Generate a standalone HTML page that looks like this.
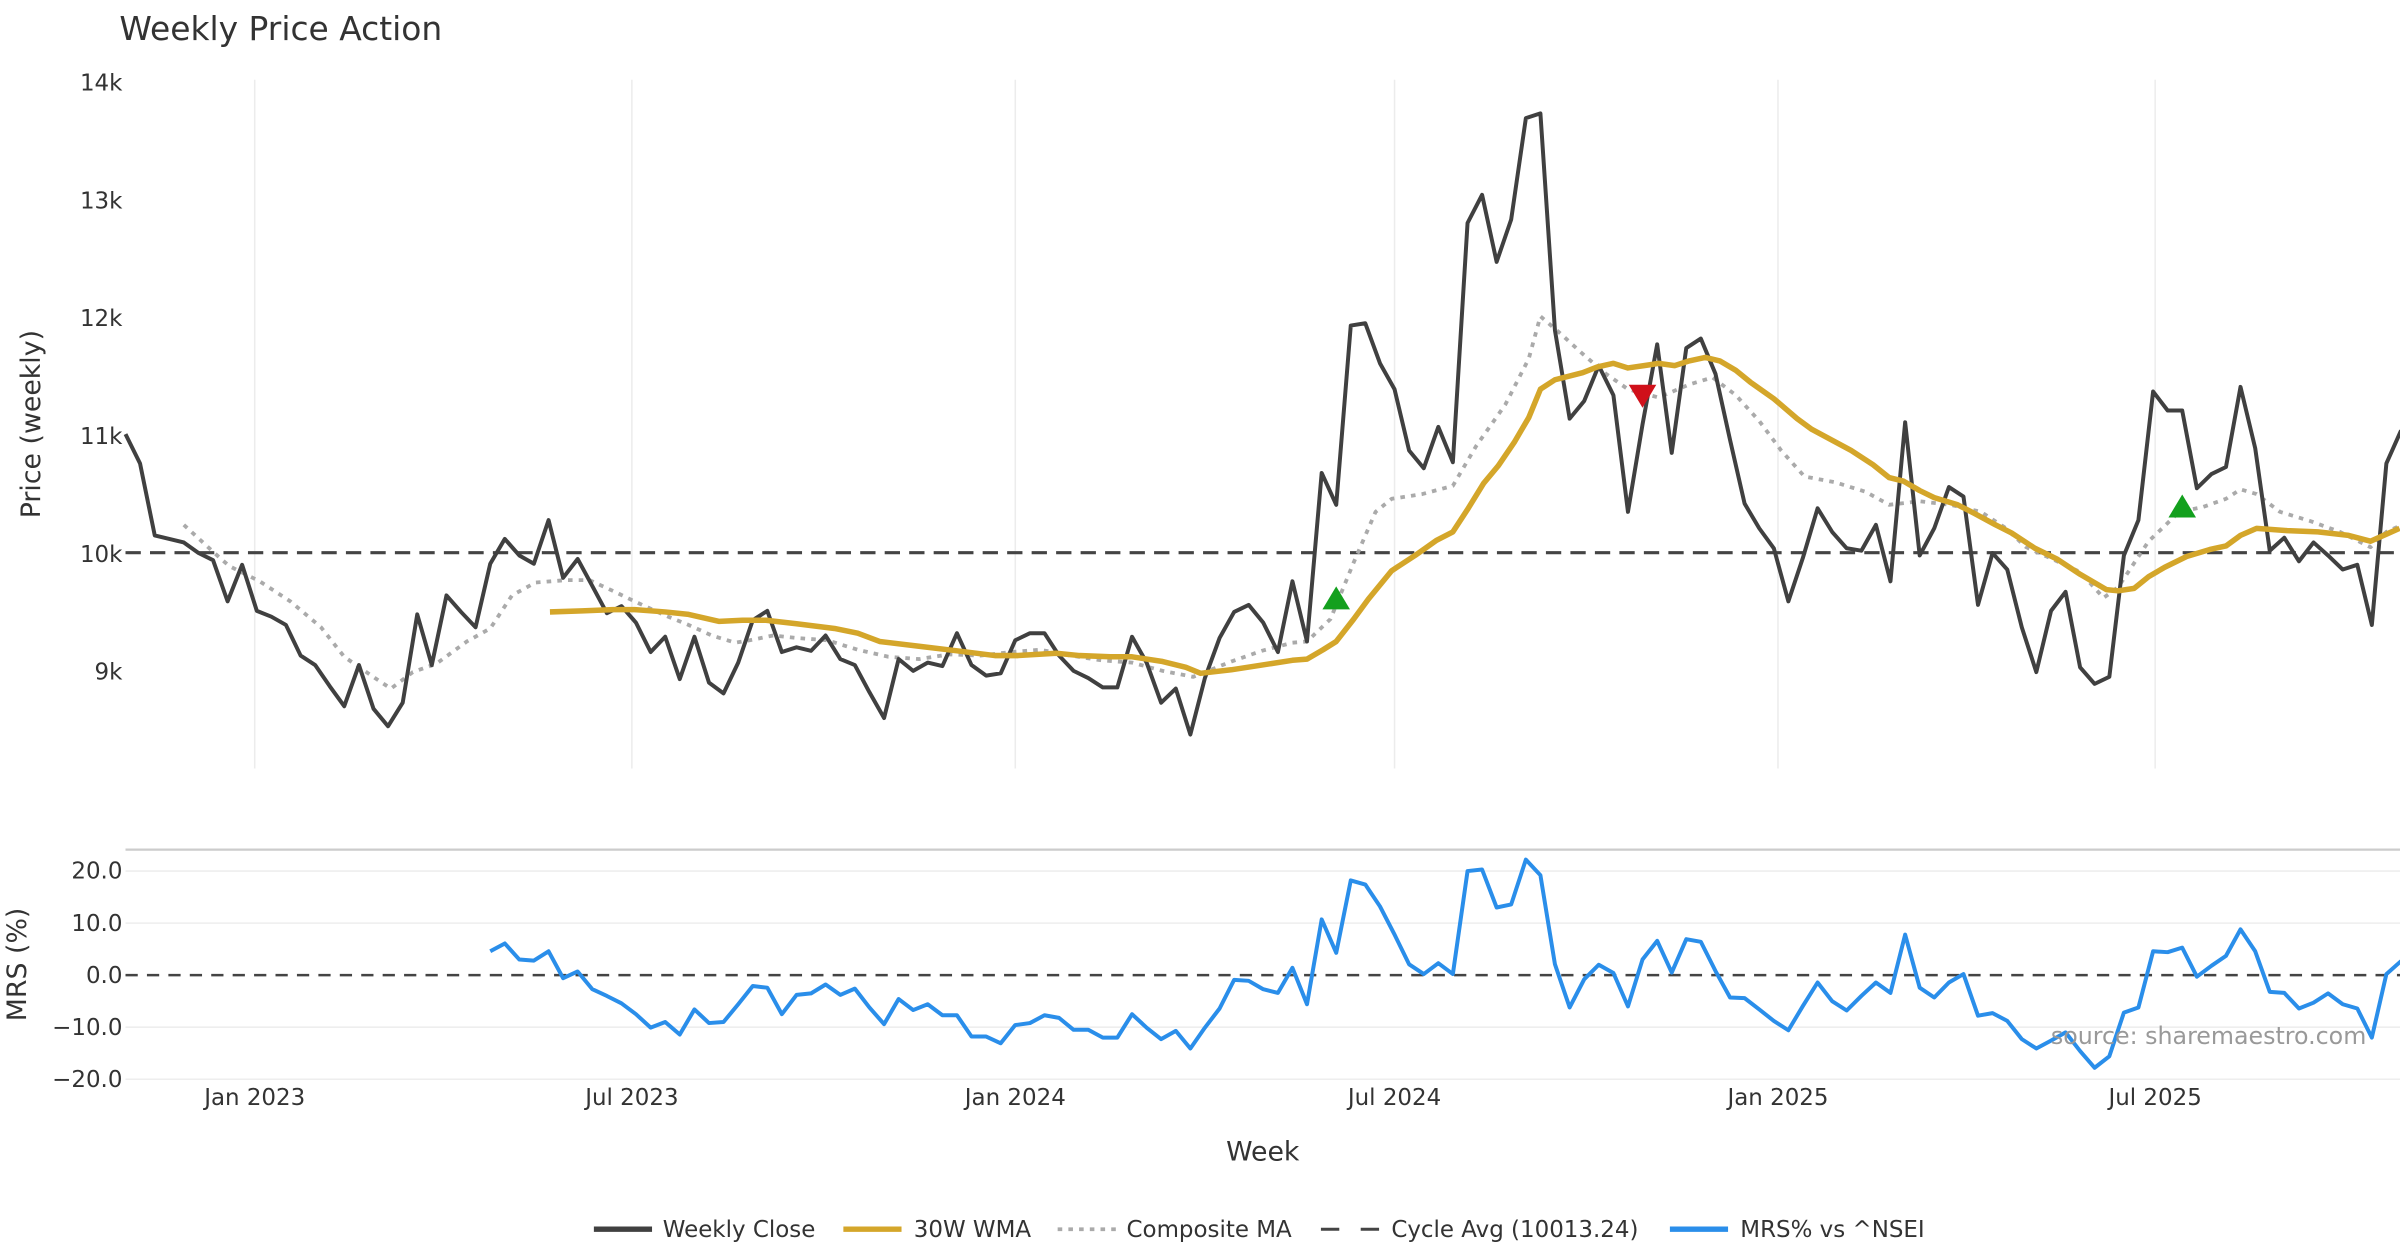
<!DOCTYPE html>
<html><head><meta charset="utf-8"><style>
html,body{margin:0;padding:0;background:#fff;}
svg{display:block;font-family:"DejaVu Sans","Liberation Sans",sans-serif;}
</style></head><body>
<svg id="chart" width="2400" height="1260" viewBox="0 0 1568 823" xmlns="http://www.w3.org/2000/svg">
<text x="78" y="26" font-size="21.5" fill="#333">Weekly Price Action</text>
<g id="grid"></g>
<g id="main"></g>
<g id="mrs"></g>
<text transform="translate(26,277) rotate(-90)" text-anchor="middle" font-size="17.5" fill="#333">Price (weekly)</text>
<text transform="translate(17,630) rotate(-90)" text-anchor="middle" font-size="17.5" fill="#333">MRS (%)</text>
<text x="825" y="758" text-anchor="middle" font-size="17.5" fill="#333">Week</text>
<text x="1546" y="682" text-anchor="end" font-size="15.5" fill="#999">source: sharemaestro.com</text>
<g id="legend"></g>
</svg>
<script>
const startDate = new Date(2022, 9, 31);
const closeValues = [11020,10770,10160,10130,10100,10010,9950,9600,9910,9520,
9470,9400,9140,9060,8880,8710,9060,8690,8540,8740,
9490,9060,9650,9510,9380,9920,10130,9990,9920,10290,
9800,9960,9730,9500,9560,9420,9170,9300,8940,9300,
8910,8820,9080,9440,9520,9170,9210,9180,9310,9110,
9060,8830,8610,9110,9010,9080,9050,9330,9060,8970,
8990,9270,9330,9330,9140,9010,8950,8870,8870,9300,
9080,8740,8860,8470,8950,
9290,9510,9570,9420,9170,9770,9260,10690,10420,11940,
11960,11620,11400,10880,10730,11080,10780,12810,13050,12480,
12840,13700,13740,11900,11150,11300,11600,11350,10360,11100,
11780,10860,11750,11830,11530,10970,10430,10220,10050,9600,
9970,10390,10190,10050,10030,10250,9770,11120,9990,10220,
10570,10490,9570,10010,9870,9380,9000,9520,9680,9040,
8900,8960,9990,10290,11380,11220,11220,10560,10680,10740,
11420,10900,10030,10140,9940,10100,9990,9870,9910,9400,
10770,11050];
const wmaWeeks = [29.1,31.3,33.4,34.9,37,38.6,40.7,42.3,43.9,46,48.6,50.2,51.7,54.4,57,59.6,61.2,63.8,65.4,67.5,69,71.1,72.7,73.7,75.8,77.9,80,81,82.1,83,84.2,85.2,86.8,88.4,89.9,91,92,93.1,94.1,95.2,96.2,97,98,99.9,100.9,102,103,104.1,105.1,106.2,107.2,108.3,109.3,110.4,111.4,113,114.6,115.6,118.3,119.8,120.9,121.9,123,124,125.6,126.7,128.2,129.3,130.9,132.4,134,135.8,136.6,137.7,138.7,139.8,141.3,142.9,144,145,146.1,148.2,150.3,152.4,153.9,155,155.9];
const wmaValues = [9510,9520,9530,9530,9510,9490,9430,9440,9440,9410,9370,9330,9260,9220,9180,9140,9140,9160,9140,9130,9130,9090,9040,8990,9020,9060,9100,9110,9190,9260,9450,9620,9860,9990,10120,10190,10380,10600,10750,10950,11160,11400,11480,11540,11590,11620,11580,11600,11620,11600,11640,11670,11640,11560,11460,11320,11150,11060,10880,10760,10650,10620,10540,10480,10420,10350,10250,10180,10050,9960,9830,9700,9690,9710,9810,9890,9980,10040,10070,10160,10220,10200,10190,10160,10110,10170,10220];
const compWeeks = [4,6.1,7.1,9.2,11.3,13.4,15,17.1,18.2,19.7,21.3,23.4,25,26.5,28.1,30.2,31.8,33.4,34.9,37,38.6,40.2,41.8,42.8,44.4,46,48.1,50.2,52.3,54.4,56.5,58.6,60.7,62.7,64.8,66.9,69,71.1,73.2,75.8,77.9,80,81,82.6,84.2,85.7,86.8,88.9,91,92.6,94.6,96.2,97,98.3,99.9,101.5,103,105.1,107.2,108.8,110.4,112,113.5,115.1,117.2,119.3,120.9,123,125.1,127.2,128.8,130.3,131.9,134,135.6,136.6,138.7,140.8,142.4,144,145,146.1,147.7,149.8,151.8,153.9,155,155.9];
const compValues = [10250,10010,9900,9770,9600,9380,9130,8950,8860,9000,9070,9260,9370,9650,9760,9780,9780,9690,9600,9480,9400,9310,9250,9270,9310,9290,9270,9190,9130,9110,9150,9140,9170,9190,9140,9100,9080,9010,8960,9090,9180,9250,9260,9450,9930,10360,10470,10510,10580,10920,11270,11660,12020,11880,11700,11530,11400,11330,11440,11500,11350,11130,10880,10660,10610,10530,10420,10450,10420,10360,10230,10060,9970,9850,9630,9720,10110,10360,10400,10470,10550,10510,10360,10280,10190,10060,10190,10240];
const cycleAvg = 10013.24;
const mrsStart = 25;
const mrsValues = [4.6,6.1,3.0,2.8,4.6,-0.6,0.7,-2.7,-4.0,-5.4,
-7.5,-10.1,-9.0,-11.4,-6.6,-9.2,-9.0,-5.6,-2.1,-2.4,
-7.5,-3.8,-3.5,-1.8,-3.8,-2.6,-6.2,-9.4,-4.6,-6.7,
-5.6,-7.7,-7.7,-11.8,-11.8,-13.1,-9.6,-9.2,-7.7,-8.2,
-10.5,-10.5,-12.0,-12.0,-7.5,-10.1,-12.3,-10.7,-14.1,-10.1,
-6.4,-0.9,-1.1,-2.7,-3.4,1.4,-5.6,10.7,4.3,18.2,
17.4,13.2,7.8,2.1,0.2,2.3,0.2,20.0,20.3,13.0,
13.6,22.2,19.2,2.1,-6.2,-0.8,2.0,0.4,-6.0,3.0,
6.6,0.5,6.9,6.4,0.8,-4.3,-4.4,-6.6,-8.8,-10.6,
-5.9,-1.4,-5.0,-6.8,-4.0,-1.4,-3.4,7.8,-2.4,-4.3,
-1.4,0.2,-7.8,-7.3,-8.8,-12.3,-14.1,-12.6,-11.0,-14.6,
-17.8,-15.6,-7.2,-6.2,4.6,4.4,5.3,-0.3,1.8,3.7,
8.8,4.6,-3.2,-3.4,-6.4,-5.3,-3.5,-5.6,-6.4,-12.0,
0.2,2.7];
const buyWeeks = [83,141];
const buyValues = [9610,10390];
const sellWeeks = [104];
const sellValues = [11360];
const priceTicks = [9000,10000,11000,12000,13000,14000];
const priceTickLabels = ["9k","10k","11k","12k","13k","14k"];
const mrsTicks = [20,10,0,-10,-20];
const mrsTickLabels = ["20.0","10.0","0.0","\u221210.0","\u221220.0"];
const dateTickLabels = ["Jan 2023","Jul 2023","Jan 2024","Jul 2024","Jan 2025","Jul 2025"];
const dateTicks = [[2023,0,1],[2023,6,1],[2024,0,1],[2024,6,1],[2025,0,1],[2025,6,1]];

const NS="http://www.w3.org/2000/svg";
const X0=82, WK=9.53;
const xW = w => X0 + w*WK;
const xD = d => xW((new Date(d[0],d[1],d[2]) - startDate)/(7*86400000));
const yP = v => 362 - (v-10000)*0.077;
const yM = v => 637 - v*3.4;
function mk(tag, attrs, parent){const e=document.createElementNS(NS,tag);for(const k in attrs)e.setAttribute(k,attrs[k]);parent.appendChild(e);return e;}
const grid=document.getElementById('grid'), main=document.getElementById('main'), mrs=document.getElementById('mrs'), leg=document.getElementById('legend');

dateTicks.forEach((d,i)=>{
  const x=xD(d);
  const g=mk('line',{x1:x,x2:x,y1:52,y2:502,stroke:'#ececec','stroke-width':1},grid);
  
  
  const t=mk('text',{x:x,y:722,'text-anchor':'middle','font-size':15,fill:'#333'},grid);
  t.textContent=dateTickLabels[i];
  
  
});
priceTicks.forEach((v,i)=>{
  const t=mk('text',{x:80,y:yP(v)+5,'text-anchor':'end','font-size':15,fill:'#333'},grid);
  t.textContent=priceTickLabels[i];
  
  
});
const sep=mk('line',{x1:82,x2:1568,y1:555,y2:555,stroke:'#ccc','stroke-width':1.5},grid);


mrsTicks.forEach((v,i)=>{
  if(v!==0){const l=mk('line',{x1:82,x2:1568,y1:yM(v),y2:yM(v),stroke:'#eeeeee','stroke-width':1},grid);
  
  }
  const t=mk('text',{x:80,y:yM(v)+5,'text-anchor':'end','font-size':15,fill:'#333'},grid);
  t.textContent=mrsTickLabels[i];
  
  
});

function poly(pts,attrs,parent,name){
  const p=mk('polyline',Object.assign({points:pts.map(p=>p[0].toFixed(1)+','+p[1].toFixed(1)).join(' '),fill:'none','stroke-linejoin':'round'},attrs),parent);
  
  
  return p;
}
const cy=mk('line',{x1:82,x2:1568,y1:yP(cycleAvg),y2:yP(cycleAvg),stroke:'#444','stroke-width':2,'stroke-dasharray':'10,6'},main);


poly(compWeeks.map((w,i)=>[xW(w),yP(compValues[i])]),{stroke:'#aaaaaa','stroke-width':2.5,'stroke-dasharray':'3,4'},main,'composite-ma-line');
poly(closeValues.map((v,i)=>[xW(i),yP(v)]),{stroke:'#404040','stroke-width':2.6},main,'weekly-close-line');
poly(wmaWeeks.map((w,i)=>[xW(w),yP(wmaValues[i])]),{stroke:'#D4A62A','stroke-width':3.6},main,'wma-30w-line');
buyWeeks.forEach((w,i)=>{
  const x=xW(w), y=yP(buyValues[i]);
  const t=mk('polygon',{points:`${x-9},${y+6} ${x+9},${y+6} ${x},${y-9}`,fill:'#13a01e'},main);
  
  
});
sellWeeks.forEach((w,i)=>{
  const x=xW(w), y=yP(sellValues[i]);
  const t=mk('polygon',{points:`${x-9},${y-6} ${x+9},${y-6} ${x},${y+9}`,fill:'#d0101a'},main);
  
  
});
const z=mk('line',{x1:82,x2:1568,y1:yM(0),y2:yM(0),stroke:'#444','stroke-width':1.6,'stroke-dasharray':'8,6'},mrs);


poly(mrsValues.map((v,i)=>[xW(mrsStart+i),yM(v)]),{stroke:'#2a8eea','stroke-width':2.6},mrs,'mrs-line');

const legItems=[
 {x:388,tx:433,label:'Weekly Close',stroke:'#404040',w:3.5,dash:null},
 {x:551,tx:597,label:'30W WMA',stroke:'#D4A62A',w:3.5,dash:null},
 {x:691,tx:736,label:'Composite MA',stroke:'#aaaaaa',w:2.5,dash:'3,4'},
 {x:863,tx:909,label:'Cycle Avg (10013.24)',stroke:'#444',w:2,dash:'12,14'},
 {x:1091,tx:1137,label:'MRS% vs ^NSEI',stroke:'#2a8eea',w:3.5,dash:null}];
legItems.forEach(it=>{
  const g=mk('g',{},leg);
  
  
  const a={x1:it.x,x2:it.x+38,y1:803,y2:803,stroke:it.stroke,'stroke-width':it.w};
  if(it.dash)a['stroke-dasharray']=it.dash;
  mk('line',a,g);
  const t=mk('text',{x:it.tx,y:808,'font-size':15,fill:'#333'},g);
  t.textContent=it.label;
});
</script>
</body></html>
